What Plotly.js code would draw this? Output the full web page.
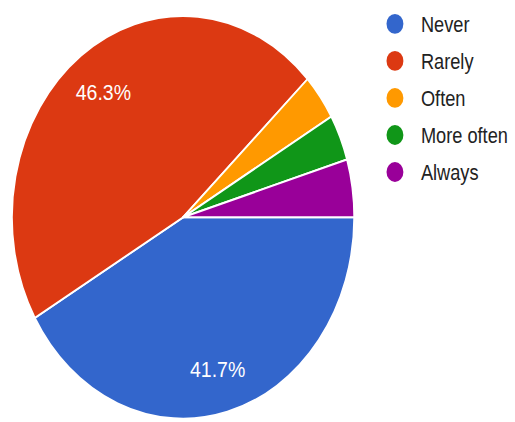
<!DOCTYPE html>
<html>
<head>
<meta charset="utf-8">
<script src="https://cdn.plot.ly/plotly-3.0.1.min.js"></script>
<style>
  html { margin: 0; padding: 0; overflow: hidden; background: #fff; }
  body { margin: 0; padding: 0; width: 515px; height: 422px; background: #fff; }
  #wrap { width: 396px; height: 276px; transform: scale(1.3, 1.53); transform-origin: 0 0; }
  #plot { width: 396px; height: 276px; }
</style>
</head>
<body>
<div id="wrap"><div id="plot"></div></div>
<script>
// Data (counts out of 108 responses)
const categories = ['Never', 'Rarely', 'Often', 'More often', 'Always'];
const counts = [45, 50, 4, 4, 5];
const sliceColors = ['#3366cc', '#dc3912', '#ff9900', '#109618', '#990099'];

const total = counts.reduce((a, b) => a + b, 0);
const labelTemplates = counts.map(v => (v / total > 0.1 ? '%{percent}' : ''));
const pieDomain = { x: [0.0235, 0.695], y: [0.0054, 0.969] };

// Filled pie (no labels)
const pieTrace = {
  type: 'pie',
  labels: categories,
  values: counts,
  sort: false,
  direction: 'clockwise',
  rotation: 90,
  marker: { colors: sliceColors, line: { color: '#ffffff', width: 1.3 } },
  textinfo: 'none',
  hoverinfo: 'label+percent',
  showlegend: false,
  domain: pieDomain
};

// Transparent ring of the same data, used only to place the percent labels toward the rim
const labelTrace = {
  type: 'pie',
  labels: categories,
  values: counts,
  sort: false,
  direction: 'clockwise',
  rotation: 90,
  hole: 0.56,
  marker: { colors: categories.map(() => 'rgba(0,0,0,0)'), line: { width: 0 } },
  texttemplate: labelTemplates,
  textposition: 'inside',
  insidetextorientation: 'horizontal',
  textfont: { family: 'Arial, "Liberation Sans", sans-serif', size: 15, color: '#ffffff' },
  hoverinfo: 'skip',
  showlegend: false,
  domain: pieDomain
};

const legendTraces = categories.map((name, i) => ({
  type: 'scatter',
  mode: 'markers',
  x: [null],
  y: [null],
  name: name,
  legendgroup: 'g' + i,
  showlegend: true,
  marker: { color: sliceColors[i], size: 13, symbol: 'circle' },
  hoverinfo: 'skip'
}));

const layout = {
  width: 396,
  height: 276,
  margin: { l: 0, r: 0, t: 0, b: 0, pad: 0 },
  paper_bgcolor: '#ffffff',
  plot_bgcolor: '#ffffff',
  showlegend: true,
  xaxis: { visible: false },
  yaxis: { visible: false },
  legend: {
    x: 0.724, xanchor: 'left',
    y: 1.005, yanchor: 'top',
    font: { family: 'Arial, "Liberation Sans", sans-serif', size: 14, color: '#222222' },
    tracegroupgap: 3,
    bgcolor: 'rgba(0,0,0,0)',
    itemclick: false,
    itemdoubleclick: false
  }
};

Plotly.newPlot('plot', [pieTrace, labelTrace].concat(legendTraces), layout, { displayModeBar: false, staticPlot: true });
</script>
</body>
</html>
